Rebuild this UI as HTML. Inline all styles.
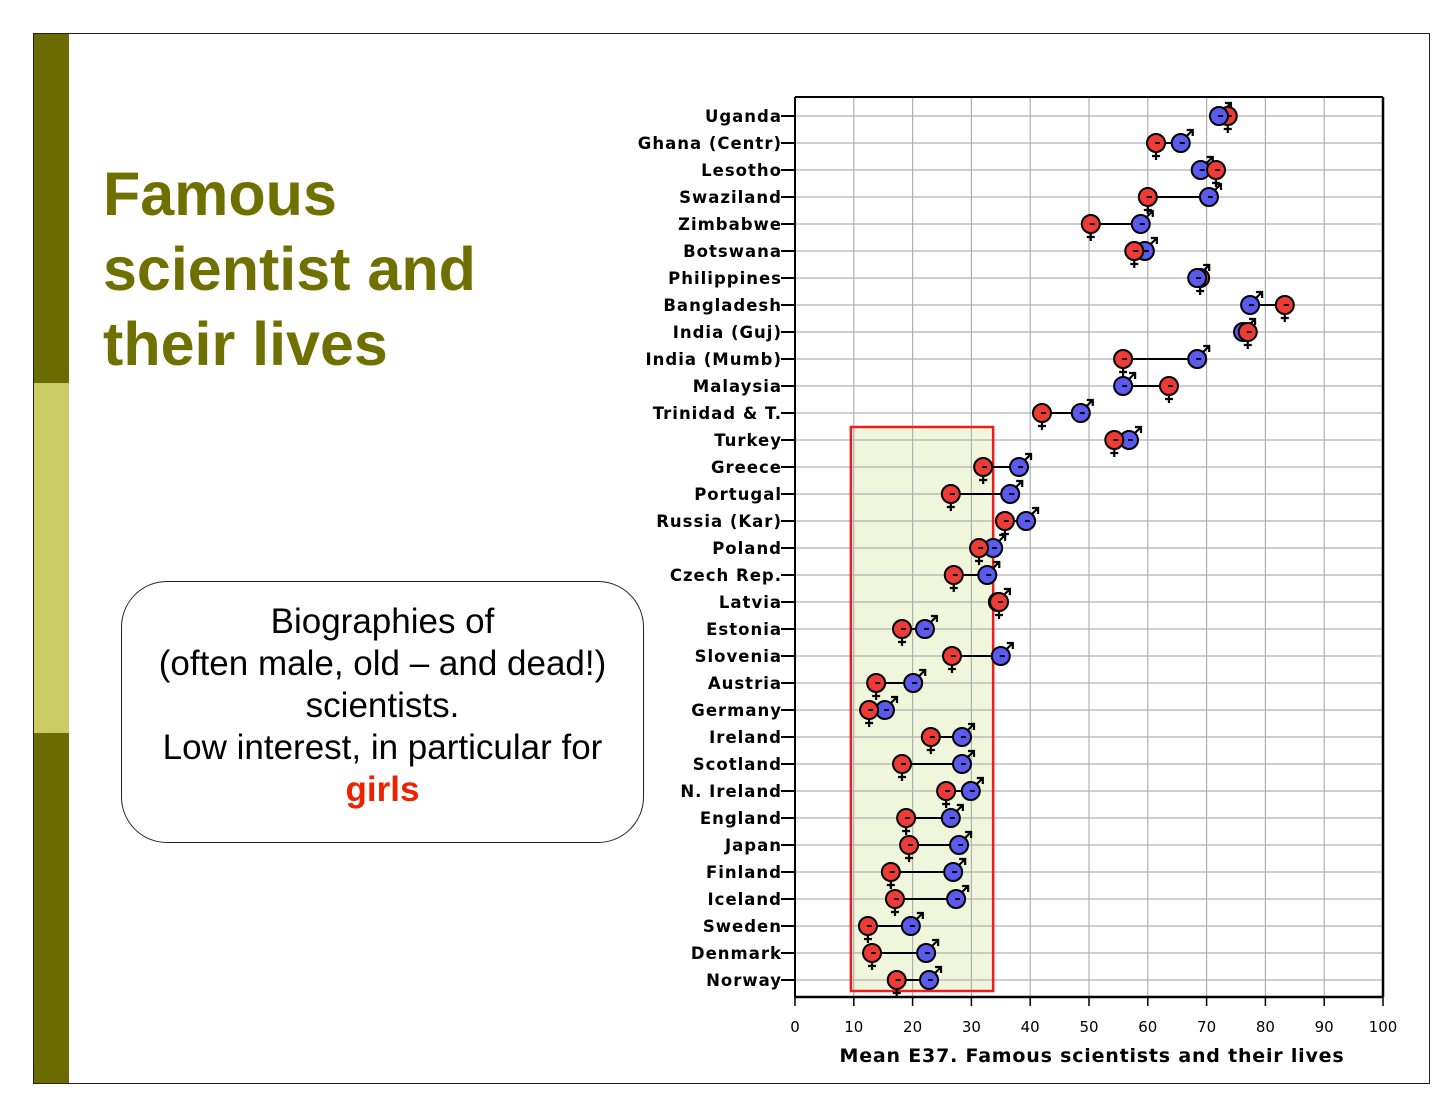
<!DOCTYPE html>
<html><head><meta charset="utf-8">
<style>
html,body{margin:0;padding:0;background:#fff;}
body{width:1456px;height:1104px;position:relative;overflow:hidden;font-family:"Liberation Sans",sans-serif;}
</style></head>
<body>
<div style="position:absolute;left:33px;top:33px;width:1397px;height:1051px;border:1.5px solid #222;box-sizing:border-box;"></div>
<div style="position:absolute;left:34px;top:34px;width:35px;height:349px;background:#6b6b00;"></div>
<div style="position:absolute;left:34px;top:383px;width:35px;height:350px;background:#cccc66;"></div>
<div style="position:absolute;left:34px;top:733px;width:35px;height:350px;background:#6b6b00;"></div>
<div style="position:absolute;left:103px;top:157px;font-weight:bold;font-size:61px;line-height:75px;color:#707000;">Famous<br>scientist and<br>their lives</div>
<div style="position:absolute;left:121px;top:581px;width:523px;height:262px;border:1.5px solid #222;border-radius:46px;box-sizing:border-box;background:#fff;"></div>
<div style="position:absolute;left:121px;top:601px;width:523px;text-align:center;font-size:35px;line-height:42px;color:#000;">Biographies of<br>(often male, old – and dead!)<br>scientists.<br>Low interest, in particular for<br><span style="color:#ee2200;font-weight:bold;">girls</span></div>
<svg id="chart" width="1456" height="1104" style="position:absolute;left:0;top:0;"></svg>
<script>
const countries=["Uganda","Ghana (Centr)","Lesotho","Swaziland","Zimbabwe","Botswana","Philippines","Bangladesh","India (Guj)","India (Mumb)","Malaysia","Trinidad & T.","Turkey","Greece","Portugal","Russia (Kar)","Poland","Czech Rep.","Latvia","Estonia","Slovenia","Austria","Germany","Ireland","Scotland","N. Ireland","England","Japan","Finland","Iceland","Sweden","Denmark","Norway"];
const female=[73.6,61.4,71.6,60.0,50.3,57.7,68.9,83.3,77.0,55.8,63.6,42.0,54.3,32.0,26.5,35.7,31.3,27.0,34.7,18.2,26.7,13.8,12.6,23.1,18.2,25.7,18.9,19.4,16.3,17.0,12.4,13.1,17.3];
const male=[72.1,65.6,69.0,70.4,58.8,59.5,68.4,77.4,76.2,68.4,55.8,48.6,56.8,38.1,36.6,39.3,33.7,32.7,34.5,22.1,35.0,20.1,15.3,28.4,28.4,29.9,26.5,27.9,26.9,27.4,19.7,22.3,22.8];
const xTicks=[0,10,20,30,40,50,60,70,80,90,100];
const highlight=[9.5,33.7];

const svg=document.getElementById('chart');
const NS='http://www.w3.org/2000/svg';
const X0=795,X1=1383,Y0=116,DY=27,TOP=97,BOT=997;
const xs=v=>X0+(v/100)*(X1-X0);
const ys=i=>Y0+i*DY;
function mk(t,a,name){const e=document.createElementNS(NS,t);for(const k in a)e.setAttribute(k,a[k]);


svg.appendChild(e);return e;}
mk('rect',{x:xs(highlight[0]),y:427,width:xs(highlight[1])-xs(highlight[0]),height:564,fill:'#f0f6dc',stroke:'none'},'highlight-fill');
xTicks.forEach(t=>{if(t>0&&t<100)mk('line',{x1:xs(t),x2:xs(t),y1:TOP,y2:BOT,stroke:'#b0b0b0','stroke-width':1.2},'grid-x-'+t);});
countries.forEach((c,i)=>{mk('line',{x1:X0,x2:X1,y1:ys(i),y2:ys(i),stroke:'#b0b0b0','stroke-width':1.2},'grid-y');});
mk('rect',{x:xs(highlight[0]),y:427,width:xs(highlight[1])-xs(highlight[0]),height:564,fill:'none',stroke:'#ee1c1c','stroke-width':2.5},'highlight-box');
mk('line',{x1:X0,x2:X1,y1:TOP,y2:TOP,stroke:'#000','stroke-width':2},'plot-top-border');
mk('line',{x1:X1,x2:X1,y1:TOP,y2:BOT,stroke:'#000','stroke-width':2.5},'plot-right-border');
mk('line',{x1:X0,x2:X0,y1:TOP,y2:BOT,stroke:'#000','stroke-width':2},'y-axis-line');
mk('line',{x1:X0,x2:X1,y1:BOT,y2:BOT,stroke:'#000','stroke-width':2.5},'x-axis-line');
xTicks.forEach(t=>{mk('line',{x1:xs(t),x2:xs(t),y1:BOT,y2:BOT+9,stroke:'#000','stroke-width':1.5},'x-tick');
const tx=mk('text',{x:xs(t),y:1032,'text-anchor':'middle','font-family':'DejaVu Sans, sans-serif','font-size':15,fill:'#000'},'x-tick-label');tx.textContent=t;});
const at=mk('text',{x:1092,y:1062,'text-anchor':'middle','font-family':'DejaVu Sans, sans-serif','font-size':19,'font-weight':'bold','letter-spacing':0.8,fill:'#000'},'x-axis-title');
at.textContent='Mean E37. Famous scientists and their lives';
countries.forEach((c,i)=>{const y=ys(i);
mk('line',{x1:X0-14,x2:X0,y1:y,y2:y,stroke:'#000','stroke-width':2},'y-tick');
const t=mk('text',{x:X0-13,y:y+6,'text-anchor':'end','font-family':'DejaVu Sans, sans-serif','font-size':16.5,'font-weight':'bold','letter-spacing':1,fill:'#000'},'country-label');t.textContent=c;});
countries.forEach((c,i)=>{const y=ys(i),xf=xs(female[i]),xm=xs(male[i]);
mk('line',{x1:xf,x2:xm,y1:y,y2:y,stroke:'#000','stroke-width':2},'connector-line');
mk('path',{d:`M${xf} ${y+8}V${y+17}M${xf-4} ${y+13}H${xf+4}`,stroke:'#000','stroke-width':2.2,fill:'none'},'female-symbol');
mk('path',{d:`M${xm+5} ${y-6}L${xm+12} ${y-13}M${xm+6} ${y-13}H${xm+12}V${y-7}`,stroke:'#000','stroke-width':2.2,fill:'none'},'male-symbol');
});
countries.forEach((c,i)=>{const y=ys(i),xf=xs(female[i]),xm=xs(male[i]);
const order=(i===0||i===6)?[['f',xf],['m',xm]]:[['m',xm],['f',xf]];
order.forEach(([g,x])=>{
mk('circle',{cx:x,cy:y,r:9,fill:g==='f'?'#ee3b35':'#5a5aee',stroke:'#000','stroke-width':2},g==='f'?'female-point':'male-point');
mk('line',{x1:x-1,x2:x+4,y1:y,y2:y,stroke:'#000','stroke-width':2},'point-dash');
});});
</script>
</body></html>
